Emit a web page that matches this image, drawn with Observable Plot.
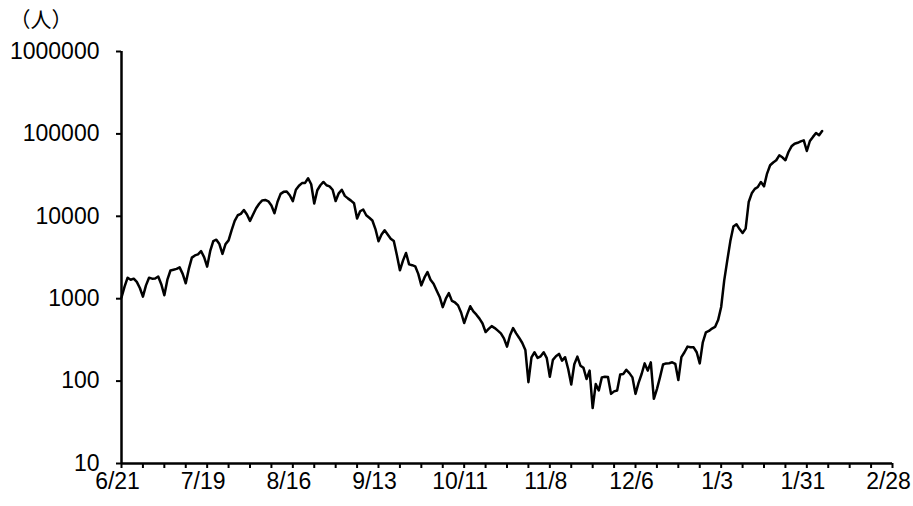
<!DOCTYPE html>
<html>
<head>
<meta charset="utf-8">
<script src="https://cdn.jsdelivr.net/npm/d3@7"></script>
<script src="https://cdn.jsdelivr.net/npm/@observablehq/plot@0.6"></script>
<style>
  html, body { margin: 0; padding: 0; background: #fff; }
</style>
</head>
<body>
<div id="chart"></div>
<script>
// Daily values starting on this date
const startDate = "2021-06-21";
const endDate = "2022-02-28";
const cases = [
  1035,1400,1800,1700,1750,1600,1350,
  1060,1450,1800,1750,1760,1860,1500,
  1100,1700,2200,2250,2300,2400,2000,
  1540,2300,3150,3350,3450,3780,3200,
  2450,3800,5000,5200,4600,3500,4600,
  5100,6800,8800,10300,10700,11900,10500,
  8800,10500,12500,14200,15600,15800,15200,
  13500,10900,15000,18700,19800,20000,18000,
  15300,21000,23500,25300,25400,29000,24500,
  14300,20700,23800,26100,23800,23100,21000,
  15300,19000,21000,17700,16500,15500,14400,
  9400,11500,12100,10300,9600,8900,7000,
  4970,6000,6760,6000,5350,5010,3400,
  2210,2900,3590,2610,2550,2470,2000,
  1450,1800,2110,1700,1520,1260,1050,
  790,1000,1170,940,900,830,680,
  507,650,809,700,640,573,500,
  394,430,465,440,410,380,330,
  262,360,440,380,334,290,239,
  97,194,224,191,200,224,190,
  113,181,200,214,177,195,140,
  91,160,198,154,145,106,134,
  47,92,77,111,113,112,70,
  75,77,120,122,137,125,111,
  70,95,122,164,134,169,61,
  80,111,159,164,165,169,162,
  103,195,224,262,257,257,224,
  164,296,391,406,434,454,550,
  793,1670,2920,5000,7500,8000,7000,
  6270,7090,14900,19000,21500,22700,26100,
  23100,33000,41600,45000,47900,55000,52000,
  47900,60300,70700,76000,78000,81000,83600,
  62000,82000,92000,102600,96200,108400
];
const yTicks = [10, 100, 1000, 10000, 100000, 1000000];
const xLabels = ["2021-06-21","2021-07-19","2021-08-16","2021-09-13","2021-10-11","2021-11-08","2021-12-06","2022-01-03","2022-01-31","2022-02-28"];
const unitLabel = "（人）";

const start = new Date(startDate + "T00:00:00Z");
const end = new Date(endDate + "T00:00:00Z");
const data = cases.map((v, i) => ({date: d3.utcDay.offset(start, i), value: v}));
const weekTicks = d3.utcMonday.range(start, d3.utcDay.offset(end, 1));
const labelTicks = xLabels.map(s => new Date(s + "T00:00:00Z"));
const fmt = d => `${d.getUTCMonth() + 1}/${d.getUTCDate()}`;
const font = "'Liberation Sans', Arial, sans-serif";

const chart = Plot.plot({
  width: 913,
  height: 506,
  marginLeft: 121,
  marginRight: 21,
  marginTop: 51,
  marginBottom: 43,
  style: {fontFamily: font, fontSize: "23px", color: "#000", background: "#fff"},
  x: {type: "utc", domain: [start, end]},
  y: {type: "log", domain: [10, 1e6]},
  marks: [
    Plot.axisY({ticks: yTicks, tickSize: 5, tickPadding: 17, strokeWidth: 2, tickFormat: d => String(d), label: null, fontSize: 23, fontFamily: font, fill: "#000"}),
    Plot.axisX({ticks: weekTicks, tickSize: 5, strokeWidth: 2, tickFormat: () => "", label: null}),
    Plot.axisX({ticks: labelTicks, tickSize: 0, tickPadding: 9, dx: -4, tickFormat: fmt, label: null, fontSize: 23, fontFamily: font, fill: "#000"}),
    Plot.ruleX([start], {stroke: "#000", strokeWidth: 2.5}),
    Plot.ruleY([10], {stroke: "#000", strokeWidth: 2.5}),
    Plot.line(data, {x: "date", y: "value", stroke: "#000", strokeWidth: 2.5, strokeLinejoin: "round"}),
    Plot.text([unitLabel], {frameAnchor: "top-left", dx: -112, dy: -31, textAnchor: "start", lineAnchor: "middle", fontSize: 21, fontFamily: "'Noto Sans CJK JP', sans-serif", fill: "#000"})
  ]
});
document.getElementById("chart").appendChild(chart);
</script>
</body>
</html>
